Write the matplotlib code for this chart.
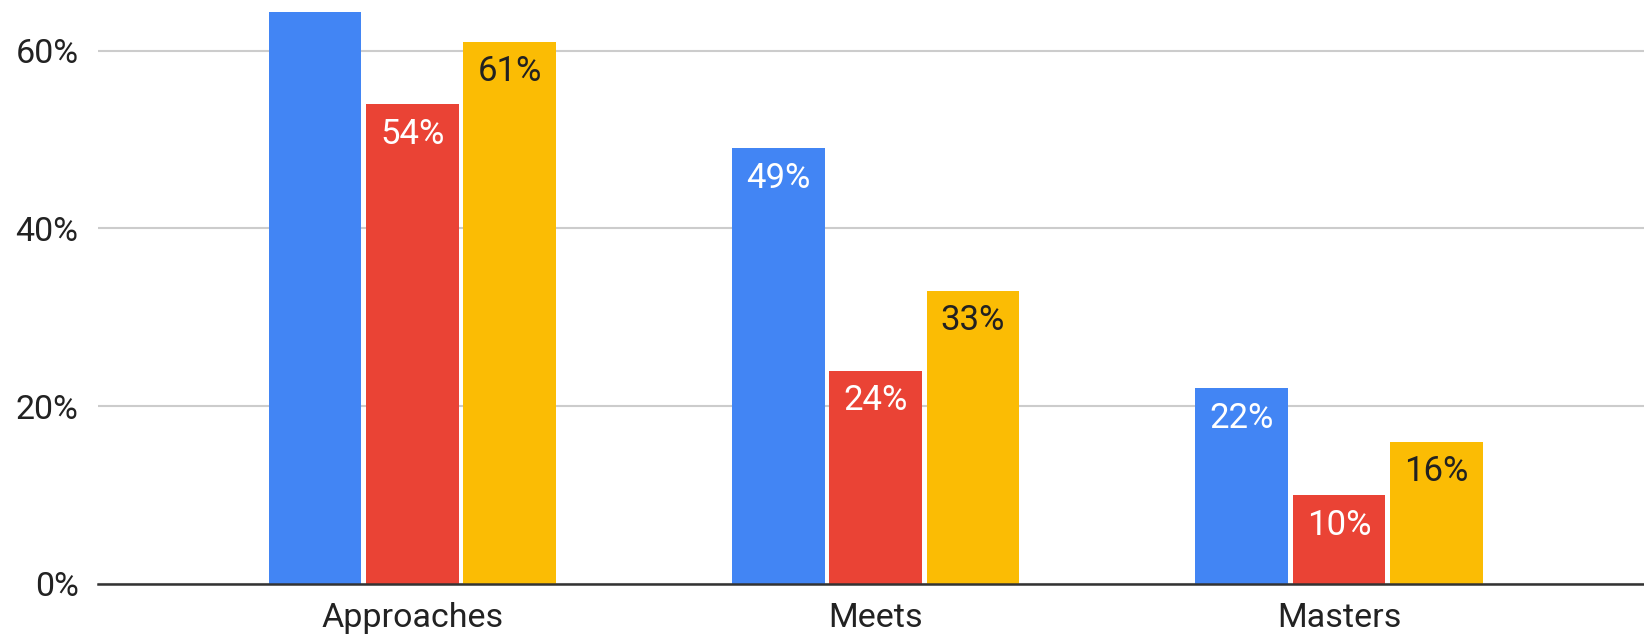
import matplotlib.pyplot as plt
import numpy as np
from matplotlib.ticker import FuncFormatter

plt.rcParams['font.family'] = ['Roboto', 'DejaVu Sans']

categories = ['Approaches', 'Meets', 'Masters']
blue_vals = [70, 49, 22]    # first bar runs past the top of the chart
red_vals = [54, 24, 10]
yellow_vals = [61, 33, 16]

series = [blue_vals, red_vals, yellow_vals]
colors = ['#4285F4', '#EA4335', '#FBBC04']
text_colors = ['white', 'white', '#212121']

fig = plt.figure(figsize=(16.44, 6.42), dpi=100)
ax = fig.add_axes([98 / 1644, 1 - 584 / 642, 1 - 98 / 1644, (584 - 11.5) / 642])

x = np.arange(len(categories))
bar_width = 0.2
step = 0.21

for i, vals in enumerate(series):
    bars = ax.bar(x + (i - 1) * step, vals, width=bar_width, color=colors[i],
                  linewidth=0, zorder=2)
    for bar, v in zip(bars, vals):
        if v > 64:
            continue
        ax.text(bar.get_x() + bar.get_width() / 2, v - 3.4, f'{v}%',
                ha='center', va='center', color=text_colors[i], fontsize=25, zorder=3)

ax.set_xlim(-0.678, 2.658)
ax.set_ylim(0, 64.4)
ax.set_yticks([0, 20, 40, 60])
ax.yaxis.set_major_formatter(FuncFormatter(lambda v, pos: f'{v:.0f}%'))
ax.set_xticks(x)
ax.set_xticklabels(categories)

ax.grid(True, axis='y', color='#cccccc', linewidth=1.5)
ax.set_axisbelow(True)
for s in ['top', 'right', 'left']:
    ax.spines[s].set_visible(False)
ax.spines['bottom'].set_color('#333333')
ax.spines['bottom'].set_linewidth(1.8)
ax.spines['bottom'].set_zorder(4)

ax.tick_params(axis='both', length=0, labelsize=24.5, colors='#222222')
ax.tick_params(axis='y', pad=14)
ax.tick_params(axis='x', pad=13)

plt.savefig('out.png', dpi=100)
